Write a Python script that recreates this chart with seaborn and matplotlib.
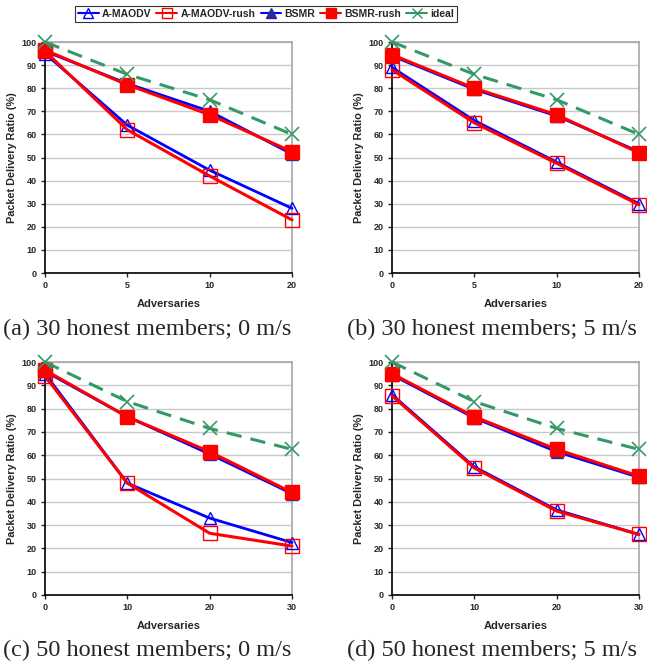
import pandas as pd
import seaborn as sns
import matplotlib.pyplot as plt
from matplotlib.lines import Line2D

#%% data
series = ['A-MAODV', 'A-MAODV-rush', 'BSMR', 'BSMR-rush', 'ideal']

x_30 = ['0', '5', '10', '20']
x_50 = ['0', '10', '20', '30']

# (a) 30 honest members; 0 m/s
a_maodv_30_0 = [95, 64, 44.5, 28]
a_rush_30_0 = [96, 62, 42, 23]
bsmr_30_0 = [96, 82, 70, 51.5]
bsmr_rush_30_0 = [96.5, 81.5, 68.5, 52.5]
ideal_30 = [100, 86, 75, 60]

# (b) 30 honest members; 5 m/s
a_maodv_30_5 = [89, 66, 48, 30]
a_rush_30_5 = [88, 65, 47.5, 29.5]
bsmr_30_5 = [94, 79.5, 68, 52.5]
bsmr_rush_30_5 = [94.5, 80, 68.5, 52]

# (c) 50 honest members; 0 m/s
a_maodv_50_0 = [95, 48, 33, 22.5]
a_rush_50_0 = [94, 48, 26.5, 21]
bsmr_50_0 = [96, 76.5, 60.5, 43.5]
bsmr_rush_50_0 = [96.5, 76.5, 61.5, 44]
ideal_50 = [100, 83, 71.5, 62.5]

# (d) 50 honest members; 5 m/s
a_maodv_50_5 = [86, 55, 36.5, 26]
a_rush_50_5 = [85.5, 54.5, 36, 26]
bsmr_50_5 = [94.5, 76, 61.5, 50.5]
bsmr_rush_50_5 = [95, 76.5, 62.5, 51]

captions = ['(a) 30 honest members; 0 m/s', '(b) 30 honest members; 5 m/s',
            '(c) 50 honest members; 0 m/s', '(d) 50 honest members; 5 m/s']

panels = [
    (x_30, [a_maodv_30_0, a_rush_30_0, bsmr_30_0, bsmr_rush_30_0, ideal_30]),
    (x_30, [a_maodv_30_5, a_rush_30_5, bsmr_30_5, bsmr_rush_30_5, ideal_30]),
    (x_50, [a_maodv_50_0, a_rush_50_0, bsmr_50_0, bsmr_rush_50_0, ideal_50]),
    (x_50, [a_maodv_50_5, a_rush_50_5, bsmr_50_5, bsmr_rush_50_5, ideal_50]),
]

#%% styles
blue = '#0000FF'
navy = '#2B2BA0'
red = '#FF0000'
green = '#339966'
styles = {
    'A-MAODV': dict(color=blue, marker='^', markersize=9, mfc='none', mec=blue, mew=1.0, lw=2.0, ls='-'),
    'A-MAODV-rush': dict(color=red, marker='s', markersize=10, mfc='none', mec=red, mew=1.0, lw=2.2, ls='-'),
    'BSMR': dict(color=blue, marker='^', markersize=9, mfc=navy, mec=navy, mew=1.0, lw=2.0, ls='-'),
    'BSMR-rush': dict(color=red, marker='s', markersize=10, mfc=red, mec=red, mew=1.0, lw=2.2, ls='-'),
    'ideal': dict(color=green, marker='x', markersize=10, mfc=green, mec=green, mew=1.2, lw=2.2, ls=(0, (5, 3))),
}

sns.set_style('white')
plt.rcParams['font.family'] = ['Liberation Sans', 'DejaVu Sans']

fig = plt.figure(figsize=(6.47, 6.69), dpi=100)
W, H = 647, 669
boxes = [(45, 42, 292, 273), (392, 42, 639, 273), (45, 362, 292, 595), (392, 362, 639, 595)]
cap_y = [329, 650]
cap_x = [3, 347]

for i, ((xs, vals), box) in enumerate(zip(panels, boxes)):
    l, t, r, b = box
    ax = fig.add_axes([l / W, 1 - b / H, (r - l) / W, (b - t) / H])
    pos = list(range(len(xs)))
    for name, v in zip(series, vals):
        st = styles[name]
        sns.lineplot(x=pos, y=v, ax=ax, color=st['color'], marker=st['marker'],
                     markersize=st['markersize'], markerfacecolor=st['mfc'],
                     markeredgecolor=st['mec'], markeredgewidth=st['mew'],
                     linewidth=st['lw'], linestyle=st['ls'], clip_on=False, zorder=3)
    ax.set_xlim(0, 3)
    ax.set_ylim(0, 100)
    ax.set_xticks(pos)
    ax.set_xticklabels(xs, fontsize=6.5, fontweight='bold')
    ax.set_yticks(range(0, 101, 10))
    ax.set_yticklabels([str(y) for y in range(0, 101, 10)], fontsize=6.5, fontweight='bold')
    ax.yaxis.grid(True, color='#C8C8C8', lw=1.0)
    ax.set_axisbelow(True)
    ax.tick_params(axis='both', direction='out', length=3, width=1, pad=3, left=True, bottom=True)
    ax.spines['left'].set_color('black')
    ax.spines['bottom'].set_color('black')
    ax.spines['left'].set_linewidth(1.2)
    ax.spines['bottom'].set_linewidth(1.2)
    for s in ['top', 'right']:
        ax.spines[s].set_color('#A8A8A8')
        ax.spines[s].set_linewidth(1.2)
    ax.set_xlabel('Adversaries', fontsize=8, fontweight='bold', labelpad=6)
    ax.set_ylabel('Packet Delivery Ratio (%)', fontsize=7.8, fontweight='bold', labelpad=3)
    fig.text(cap_x[i % 2] / W, 1 - cap_y[i // 2] / H, captions[i],
             fontsize=17.5, family=['Liberation Serif', 'DejaVu Serif'], va='center', ha='left')

handles = []
for name in series:
    st = styles[name]
    handles.append(Line2D([], [], color=st['color'], marker=st['marker'], markersize=st['markersize'] * 0.75,
                          markerfacecolor=st['mfc'], markeredgecolor=st['mec'], lw=1.5, ls='-'))
leg = fig.legend(handles, series, loc='center', bbox_to_anchor=(266 / W, 1 - 14 / H), ncol=5,
                 frameon=True, fancybox=False, edgecolor='black', handlelength=2.0, handletextpad=0.3,
                 columnspacing=0.5, borderpad=0.25, prop={'weight': 'bold', 'size': 7.5})
leg.get_frame().set_linewidth(0.8)

fig.savefig('out.png', dpi=100)
